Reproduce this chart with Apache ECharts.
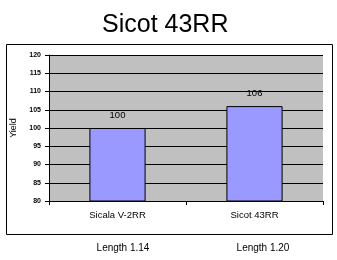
<!DOCTYPE html>
<html><head><meta charset="utf-8">
<script src="https://cdn.jsdelivr.net/npm/echarts@6/dist/echarts.min.js"></script>
<style>html,body{margin:0;padding:0;background:#fff}#c{width:337px;height:260px}</style>
</head><body><div id="c"></div>
<script>
var title = "Sicot 43RR";
var categories = ["Sicala V-2RR", "Sicot 43RR"];
var yieldValues = [100, 106];
var lengthLabels = ["Length 1.14", "Length 1.20"];
var yAxisName = "Yield";

var chart = echarts.init(document.getElementById('c'), null, {renderer: 'canvas'});
var font = 'Liberation Sans, Arial, sans-serif';
chart.setOption({
  animation: false,
  backgroundColor: '#fff',
  title: {text: title, left: 97, top: 8,
    textStyle: {fontFamily: font, fontSize: 25, fontWeight: 'normal', color: '#000'}},
  grid: {left: 49, right: 14, top: 55, bottom: 59, show: true, backgroundColor: '#C0C0C0', borderWidth: 0},
  xAxis: {type: 'category', data: categories,
    axisLine: {lineStyle: {color: '#000', width: 1}},
    axisTick: {show: true, length: 4, lineStyle: {color: '#000'}},
    axisLabel: {fontFamily: font, fontSize: 9.5, color: '#000', margin: 9}},
  yAxis: {type: 'value', min: 80, max: 120, interval: 5,
    name: yAxisName, nameLocation: 'middle', nameGap: 27, nameRotate: 90,
    nameTextStyle: {fontFamily: font, fontSize: 9, color: '#000'},
    axisLine: {show: true, lineStyle: {color: '#000', width: 1}},
    axisTick: {show: true, length: 4, lineStyle: {color: '#000'}},
    axisLabel: {fontFamily: font, fontSize: 7, fontWeight: 'bold', color: '#000', margin: 8},
    splitLine: {lineStyle: {color: '#000', width: 1}}},
  series: [{type: 'bar', data: yieldValues, barWidth: '41%',
    itemStyle: {color: '#9999FF', borderColor: '#000', borderWidth: 1},
    label: {show: true, position: 'top', distance: 8, fontFamily: font, fontSize: 9.5, color: '#000'}}],
  graphic: [
    {type: 'rect', left: 4, top: 42, shape: {width: 326, height: 190},
      style: {fill: 'none', stroke: '#000', lineWidth: 1}, silent: true, z: -1},
    {type: 'text', x: 123, y: 248, style: {text: lengthLabels[0], font: '10px ' + font, fill: '#000', textAlign: 'center', textVerticalAlign: 'middle'}},
    {type: 'text', x: 263, y: 248, style: {text: lengthLabels[1], font: '10px ' + font, fill: '#000', textAlign: 'center', textVerticalAlign: 'middle'}}
  ]
});
</script></body></html>
